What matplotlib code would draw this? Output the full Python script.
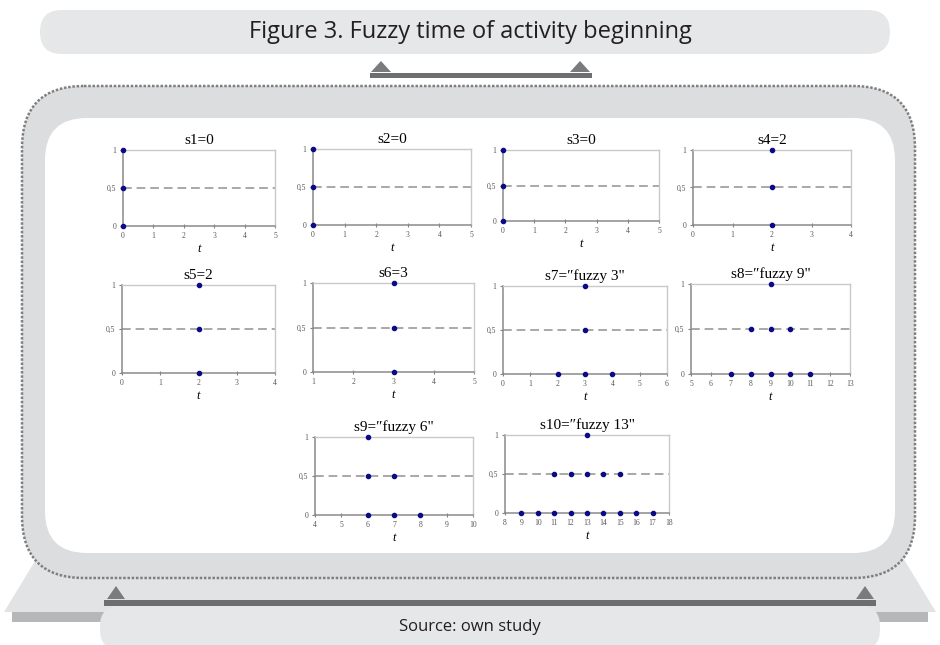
import matplotlib

matplotlib.use("Agg")
import matplotlib.pyplot as plt
from matplotlib.patches import FancyBboxPatch, Polygon, Rectangle

W, H = 940, 645

# panel data
titles = ["s1=0", "s2=0", "s3=0", "s4=2", "s5=2", "s6=3",
          "s7=\u2033fuzzy 3\"", "s8=\u2033fuzzy 9\"", "s9=\u2033fuzzy 6\"", "s10=\u2033fuzzy 13\""]
x_limits = [(0, 5), (0, 5), (0, 5), (0, 4), (0, 4), (1, 5), (0, 6), (5, 13), (4, 10), (8, 18)]
point_x = [
    [0, 0, 0],
    [0, 0, 0],
    [0, 0, 0],
    [2, 2, 2],
    [2, 2, 2],
    [3, 3, 3],
    [3, 3, 2, 3, 4],
    [9, 8, 9, 10, 7, 8, 9, 10, 11],
    [6, 6, 7, 6, 7, 8],
    [13, 11, 12, 13, 14, 15, 9, 10, 11, 12, 13, 14, 15, 16, 17],
]
point_y = [
    [1, 0.5, 0],
    [1, 0.5, 0],
    [1, 0.5, 0],
    [1, 0.5, 0],
    [1, 0.5, 0],
    [1, 0.5, 0],
    [1, 0.5, 0, 0, 0],
    [1, 0.5, 0.5, 0.5, 0, 0, 0, 0, 0],
    [1, 0.5, 0.5, 0, 0, 0],
    [1, 0.5, 0.5, 0.5, 0.5, 0.5, 0, 0, 0, 0, 0, 0, 0, 0, 0],
]
y_ticks = [0, 0.5, 1]
y_tick_labels = ["0", "0,5", "1"]

# axes boxes in pixels: left, top, right, bottom
boxes = [
    (123, 150, 275, 226), (313, 149, 471, 225), (503, 150, 659, 221), (693, 150, 851, 225),
    (122, 285, 275, 373), (313, 283, 474, 372), (503, 286, 667, 374), (691, 284, 850, 374),
    (315, 437, 473, 515), (505, 435, 669, 513),
]

fig = plt.figure(figsize=(W / 100, H / 100), dpi=100)
fig.patch.set_facecolor("white")

bg = fig.add_axes([0, 0, 1, 1])
bg.set_xlim(0, W)
bg.set_ylim(H, 0)
bg.axis("off")

light = "#e6e7e8"
band = "#dcdddf"
dark = "#6d6e70"
sans = ["Liberation Sans Narrow", "Open Sans", "DejaVu Sans"]

# bottom platform
bg.add_patch(Polygon([(60, 520), (880, 520), (936, 612), (4, 612)], closed=True,
                     facecolor="#e2e3e4", edgecolor="none"))
bg.add_patch(Rectangle((12, 612), 916, 10, facecolor="#b6b7b9", edgecolor="none"))

# outer dotted frame and inner white panel
bg.add_patch(FancyBboxPatch((22, 86), 893, 492, boxstyle="round,pad=0,rounding_size=62",
                            facecolor=band, edgecolor="#7f7f7f", linewidth=1.8,
                            linestyle=(0, (1, 0.7))))
bg.add_patch(FancyBboxPatch((45, 118), 850, 435, boxstyle="round,pad=0,rounding_size=42",
                            facecolor="white", edgecolor="none"))

# title pill and connector
bg.add_patch(FancyBboxPatch((40, 10), 850, 44, boxstyle="round,pad=0,rounding_size=22",
                            facecolor=light, edgecolor="none"))
bg.text(470, 32, "Figure 3. Fuzzy time of activity beginning", ha="center", va="center",
        fontsize=17, color="#231f20", family=sans)
bg.add_patch(Rectangle((370, 73), 222, 5, facecolor=dark, edgecolor="none"))
for cx in (381, 580):
    bg.add_patch(Polygon([(cx - 10, 72), (cx + 10, 72), (cx, 61)], closed=True,
                         facecolor="#7a7b7d", edgecolor="none"))

# bottom connector and source pill
bg.add_patch(Rectangle((104, 600), 772, 6, facecolor=dark, edgecolor="none"))
for cx in (116, 865):
    bg.add_patch(Polygon([(cx - 9, 599), (cx + 9, 599), (cx, 586)], closed=True,
                         facecolor="#7a7b7d", edgecolor="none"))
bg.add_patch(FancyBboxPatch((100, 606), 780, 44, boxstyle="round,pad=0,rounding_size=20",
                            facecolor=light, edgecolor="none"))
bg.text(470, 627, "Source: own study", ha="center", va="center", fontsize=12,
        color="#231f20", family=sans)

serif = ["Liberation Serif", "DejaVu Serif"]

for i, (l, t, r, b) in enumerate(boxes):
    ax = fig.add_axes([l / W, 1 - b / H, (r - l) / W, (b - t) / H])
    lo, hi = x_limits[i]
    ax.set_xlim(lo, hi)
    ax.set_ylim(0, 1)
    ax.axhline(0.5, color="#a8a8a8", linewidth=1.4, dashes=(4.5, 2.5), zorder=1)
    ax.plot(point_x[i], point_y[i], "o", color="#0b0b8a", markersize=3.0,
            clip_on=False, zorder=3)
    ax.set_xticks(range(lo, hi + 1))
    ax.set_xticklabels([str(v) for v in range(lo, hi + 1)])
    ax.set_yticks(y_ticks)
    ax.set_yticklabels(y_tick_labels)
    ax.tick_params(axis="both", labelsize=5.5, labelcolor="#555555", color="#808080",
                   length=2, width=0.8, pad=3)
    ax.tick_params(axis="x", direction="inout", length=3)
    for labels in (ax.get_xticklabels(), ax.get_yticklabels()):
        for lab in labels:
            lab.set_family(serif)
    for side in ("top", "right"):
        ax.spines[side].set_color("#c9c9c9")
        ax.spines[side].set_linewidth(1.0)
    for side in ("left", "bottom"):
        ax.spines[side].set_color("#8a8a8a")
        ax.spines[side].set_linewidth(1.1)
    ax.set_title(titles[i], fontsize=11, family=serif, pad=4, color="black")
    ax.set_xlabel("t", fontsize=9, family=serif, style="italic", labelpad=2)
    ax.set_facecolor("white")

fig.savefig("out.png", dpi=100)
